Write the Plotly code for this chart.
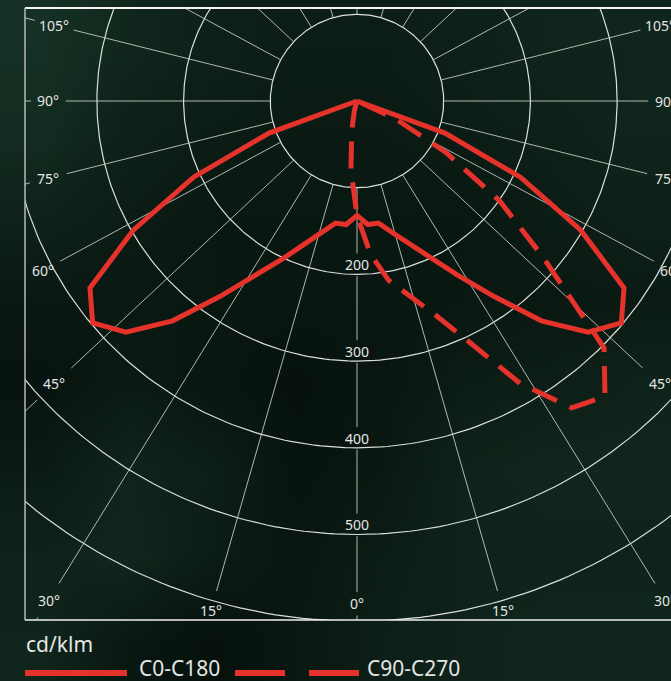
import base64
import struct
import zlib

import numpy as np
import plotly.graph_objects as go

# ---------------- data ----------------
gamma = [0, 5, 10, 15, 20, 25, 30, 35, 40, 45, 50, 55, 60, 65, 70, 75, 80, 85, 90]
c0 = [132, 143, 143, 157, 175, 200, 232, 275, 331, 377, 398, 376, 298, 208, 108, 0, 0, 0, 0]
c180 = [132, 143, 143, 157, 175, 200, 232, 275, 331, 377, 398, 376, 298, 208, 108, 0, 0, 0, 0]
c90 = [132, 177, 210, 232, 262, 307, 376, 432, 445, 403, 280, 201, 118, 50, 10, 0, 0, 0, 0]
c270 = [132, 80, 35, 12, 4, 0, 0, 0, 0, 0, 0, 0, 0, 0, 0, 0, 0, 0, 0]

ring_values = [100, 200, 300, 400, 500, 600]
ring_label_values = [200, 300, 400, 500]
ray_angles = list(range(0, 360, 15))
angle_label_values = [0, 15, 30, 45, 60, 75, 90, 105]
unit_label = "cd/klm"
series_names = ["C0-C180", "C90-C270"]

# ---------------- layout geometry / styles ----------------
W, H = 671, 681
ML, MR, MT, MB = 25, 0, 8, 61
CX, CY = 357, 101          # pole position in pixels
S = 0.867                  # pixels per cd/klm
XMIN = (ML - CX) / S
XMAX = (W - MR - CX) / S
YMAX = (CY - MT) / S
YMIN = (CY - (H - MB)) / S
K = 1.07                   # horizontal stretch of the radial grid lines

RED = "#e5322a"
GRID_RING = "rgba(238,240,238,0.92)"
GRID_RAY = "rgba(205,210,205,0.85)"
TXT = "#e4e6e4"
FONT = "Noto Sans, DejaVu Sans, sans-serif"

# label distance along ray (units) and half gap cut into the ray
label_dist = {0: 580, 15: 611, 30: 677, 45: 478, 60: 412, 75: 367, 90: 356, 105: 360}
label_gap = {0: 13.5, 15: 23, 30: 23, 45: 27, 60: 23, 75: 22, 90: 20, 105: 23}

# coarse background shading (0 = near black, 1 = green), smoothed by the browser
BG_SHADE = [
    [0.85, 0.65, 0.50, 0.40, 0.40, 0.50, 0.60, 0.60],
    [0.75, 0.50, 0.40, 0.35, 0.35, 0.40, 0.50, 0.60],
    [0.55, 0.40, 0.30, 0.30, 0.30, 0.30, 0.40, 0.50],
    [0.30, 0.30, 0.30, 0.25, 0.25, 0.30, 0.30, 0.35],
    [0.20, 0.35, 0.25, 0.15, 0.25, 0.40, 0.45, 0.55],
    [0.35, 0.60, 0.45, 0.20, 0.30, 0.55, 0.65, 0.65],
    [0.55, 0.65, 0.40, 0.25, 0.40, 0.55, 0.55, 0.55],
    [0.60, 0.30, 0.15, 0.30, 0.45, 0.55, 0.65, 0.65],
]
DARK = np.array([5, 12, 9])
GREEN = np.array([24, 55, 41])


def png_data_uri(shade):
    rows = b""
    for row in shade:
        rows += b"\x00"
        for v in row:
            c = (DARK + (GREEN - DARK) * v).astype(int)
            rows += bytes([int(c[0]), int(c[1]), int(c[2])])
    h, w = len(shade), len(shade[0])

    def chunk(tag, data):
        return struct.pack(">I", len(data)) + tag + data + struct.pack(">I", zlib.crc32(tag + data) & 0xffffffff)

    png = b"\x89PNG\r\n\x1a\n" + chunk(b"IHDR", struct.pack(">IIBBBBB", w, h, 8, 2, 0, 0, 0)) \
        + chunk(b"IDAT", zlib.compress(rows)) + chunk(b"IEND", b"")
    return "data:image/png;base64," + base64.b64encode(png).decode()


def ray_dir(phi):
    p = np.radians(phi)
    v = np.array([K * np.sin(p), -np.cos(p)])
    return v / np.hypot(*v)


def to_paper(x, y):
    return (x - XMIN) / (XMAX - XMIN), (y - YMIN) / (YMAX - YMIN)


PW, PH = W - ML - MR, H - MT - MB


def px_paper(px, py):
    return (px - ML) / PW, ((H - MB) - py) / PH


fig = go.Figure()

# rings
t = np.radians(np.arange(0, 361, 1))
rx, ry = [], []
for r in ring_values:
    rx += list(r * np.sin(t)) + [None]
    ry += list(-r * np.cos(t)) + [None]
fig.add_trace(go.Scatter(x=rx, y=ry, mode="lines", line=dict(color=GRID_RING, width=1.2),
                         hoverinfo="skip", showlegend=False))

# rays (broken where labels sit)
ax_, ay_ = [], []
for phi in ray_angles:
    u = ray_dir(phi)
    theta = phi if phi <= 180 else 360 - phi
    gaps = []
    if theta in label_dist:
        gaps.append((label_dist[theta] - label_gap[theta], label_dist[theta] + label_gap[theta]))
    if phi == 0:
        for rv in ring_label_values:
            c = rv - 11
            gaps.append((c - 13, c + 13))
    gaps.sort()
    pts = [100]
    for a, b in gaps:
        pts += [a, b]
    pts.append(1500)
    for i in range(0, len(pts), 2):
        p0, p1 = pts[i] * u, pts[i + 1] * u
        ax_ += [p0[0], p1[0], None]
        ay_ += [p0[1], p1[1], None]
fig.add_trace(go.Scatter(x=ax_, y=ay_, mode="lines", line=dict(color=GRID_RAY, width=1),
                         hoverinfo="skip", showlegend=False))


def curve(left, right):
    g = np.radians(np.array(gamma, dtype=float))
    L = np.array(left, dtype=float)
    R = np.array(right, dtype=float)
    x = np.concatenate([(-L * np.sin(g))[::-1], (R * np.sin(g))[1:]])
    y = np.concatenate([(-L * np.cos(g))[::-1], (-R * np.cos(g))[1:]])
    return x, y


x1, y1 = curve(c180, c0)
fig.add_trace(go.Scatter(x=x1, y=y1, mode="lines", name=series_names[0],
                         line=dict(color=RED, width=5), showlegend=False))
x2, y2 = curve(c270, c90)
fig.add_trace(go.Scatter(x=x2, y=y2, mode="lines", name=series_names[1],
                         line=dict(color=RED, width=5, dash="27px,14px"), showlegend=False))

annotations = []
# ring labels
for rv in ring_label_values:
    px_, py_ = to_paper(0, -(rv - 11))
    annotations.append(dict(x=px_, y=py_, xref="paper", yref="paper", text=str(rv),
                            showarrow=False, xanchor="center", yanchor="middle",
                            font=dict(family=FONT, size=14, color=TXT)))
# angle labels
for a in angle_label_values:
    sides = [a] if a == 0 else [a, 360 - a]
    for phi in sides:
        p = label_dist[a] * ray_dir(phi)
        px_, py_ = to_paper(p[0], p[1])
        annotations.append(dict(x=px_, y=py_, xref="paper", yref="paper", text=f"{a}°",
                                showarrow=False, xanchor="center", yanchor="middle",
                                font=dict(family=FONT, size=14, color=TXT)))

# unit + legend texts
ux, uy = px_paper(24, 644)
annotations.append(dict(x=ux, y=uy, xref="paper", yref="paper", text=unit_label, showarrow=False,
                        xanchor="left", yanchor="middle", font=dict(family=FONT, size=21, color=TXT)))
lx, ly = px_paper(137, 668)
annotations.append(dict(x=lx, y=ly, xref="paper", yref="paper", text=series_names[0], showarrow=False,
                        xanchor="left", yanchor="middle", font=dict(family=FONT, size=21, color=TXT)))
lx, ly = px_paper(365, 668)
annotations.append(dict(x=lx, y=ly, xref="paper", yref="paper", text=series_names[1], showarrow=False,
                        xanchor="left", yanchor="middle", font=dict(family=FONT, size=21, color=TXT)))

shapes = []
# frame
shapes.append(dict(type="line", xref="paper", yref="paper", x0=0, x1=1.05, y0=1, y1=1,
                   line=dict(color="#f4f4f4", width=2)))
shapes.append(dict(type="line", xref="paper", yref="paper", x0=0, x1=0, y0=0, y1=1,
                   line=dict(color="#b8bab8", width=1.5)))
shapes.append(dict(type="line", xref="paper", yref="paper", x0=0, x1=1.05, y0=0, y1=0,
                   line=dict(color="#f0f0f0", width=1.5)))
# legend samples
for (a, b) in [(25, 127), (235, 285), (309, 359)]:
    xa, ya = px_paper(a, 673)
    xb, _ = px_paper(b, 673)
    shapes.append(dict(type="line", xref="paper", yref="paper", x0=xa, x1=xb, y0=ya, y1=ya,
                       line=dict(color=RED, width=6)))

bg_image = dict(source=png_data_uri(BG_SHADE), xref="paper", yref="paper",
                x=-ML / PW, y=(H - MB) / PH, sizex=W / PW, sizey=H / PH,
                xanchor="left", yanchor="top", sizing="stretch", layer="below")

fig.update_layout(
    width=W, height=H,
    margin=dict(l=ML, r=MR, t=MT, b=MB, pad=0),
    paper_bgcolor="#0c1c15",
    plot_bgcolor="rgba(0,0,0,0)",
    xaxis=dict(range=[XMIN, XMAX], visible=False, fixedrange=True),
    yaxis=dict(range=[YMIN, YMAX], visible=False, fixedrange=True),
    annotations=annotations,
    shapes=shapes,
    images=[bg_image],
    showlegend=False,
)

fig.write_html("out.html", config={"displayModeBar": False},
               post_script="document.body.style.margin='0px';document.body.style.overflow='hidden';")
